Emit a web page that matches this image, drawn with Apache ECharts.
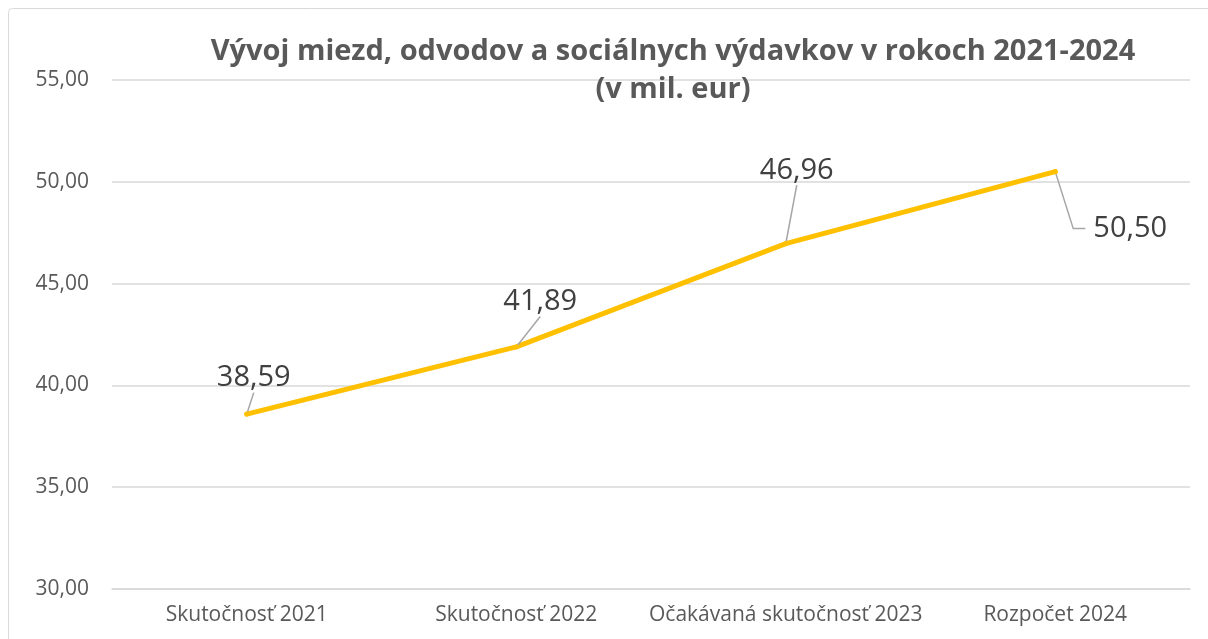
<!DOCTYPE html>
<html><head><meta charset="utf-8">
<script src="https://cdn.jsdelivr.net/npm/echarts@6/dist/echarts.min.js"></script>
<style>html,body{margin:0;padding:0;background:#fff}#c{width:1208px;height:639px}</style>
</head><body><div id="c"></div>
<script>
const categories = ['Skutočnosť 2021', 'Skutočnosť 2022', 'Očakávaná skutočnosť 2023', 'Rozpočet 2024'];
const values = [38.59, 41.89, 46.96, 50.50];
const titleText = 'Vývoj miezd, odvodov a sociálnych výdavkov v rokoch 2021-2024\n(v mil. eur)';
const labelShift = [[7, -36], [24, -45], [11, -73], [75, 57]];

const fmt = v => v.toFixed(2).replace('.', ',');
const last = values.length - 1;
const chart = echarts.init(document.getElementById('c'), null, {renderer: 'canvas'});
chart.setOption({
  animation: false,
  backgroundColor: '#fff',
  title: {
    text: titleText, left: 668, top: 28, textAlign: 'center',
    textStyle: {fontFamily: 'Open Sans', fontWeight: 'bold', fontSize: 29, color: '#595959', lineHeight: 38}
  },
  grid: {left: 112, right: 18, top: 80, bottom: 50},
  xAxis: {
    type: 'category', data: categories, boundaryGap: true,
    axisLine: {lineStyle: {color: '#d9d9d9', width: 1.5}}, axisTick: {show: false},
    axisLabel: {fontFamily: 'Open Sans', fontSize: 21, color: '#595959', margin: 16, interval: 0}
  },
  yAxis: {
    type: 'value', min: 30, max: 55, interval: 5,
    axisLine: {show: false}, axisTick: {show: false},
    splitLine: {lineStyle: {color: '#d9d9d9', width: 1.5}},
    axisLabel: {fontFamily: 'Open Sans', fontSize: 21, color: '#595959', margin: 23, formatter: v => fmt(v)}
  },
  series: [{
    type: 'line', symbol: 'circle', symbolSize: 5, showSymbol: true,
    data: values.map((v, i) => i === last ? {value: v, labelLine: {show: false}} : v),
    lineStyle: {color: '#FFC000', width: 5, cap: 'round', join: 'round'},
    itemStyle: {color: '#FFC000'},
    label: {show: true, position: 'inside', fontFamily: 'Open Sans', fontSize: 29, color: '#404040', formatter: p => fmt(p.value)},
    labelLine: {show: true, lineStyle: {color: '#a6a6a6', width: 1.5}},
    labelLayout: p => ({dx: labelShift[p.dataIndex][0], dy: labelShift[p.dataIndex][1]})
  }]
});
const [px, py] = chart.convertToPixel({seriesIndex: 0}, [last, values[last]]);
const [sx, sy] = labelShift[last];
chart.setOption({
  graphic: [
    {type: 'rect', shape: {x: 8.5, y: 8.5, width: 1230, height: 660, r: 4}, style: {fill: 'none', stroke: '#d9d9d9', lineWidth: 1}, silent: true},
    {type: 'polyline', shape: {points: [[px, py], [px + sx * 0.24, py + sy], [px + sx * 0.4, py + sy]]}, style: {fill: 'none', stroke: '#a6a6a6', lineWidth: 1.5}, silent: true, z: 1}
  ]
});
</script></body></html>
